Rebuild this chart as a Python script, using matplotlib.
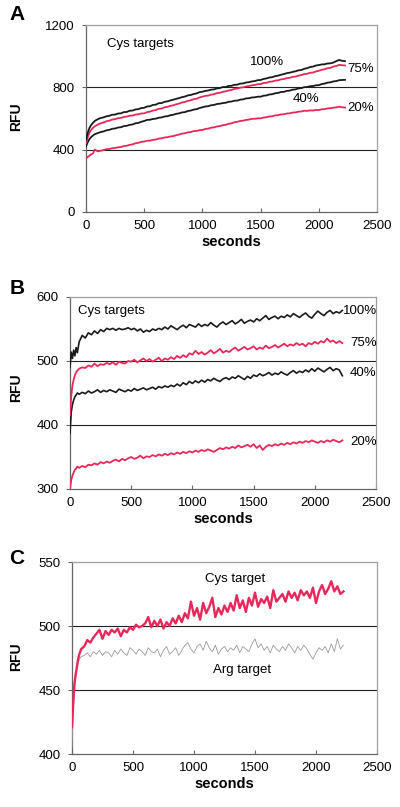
import matplotlib
matplotlib.use("Agg")
import matplotlib.pyplot as plt

plt.rcParams['font.family'] = ['Liberation Sans', 'DejaVu Sans']

# time grid (seconds)
t = [0, 10, 20, 30, 40, 50, 60, 75,
     100, 125, 150, 175, 200, 225, 250, 275,
     300, 325, 350, 375, 400, 425, 450, 475,
     500, 525, 550, 575, 600, 625, 650, 675,
     700, 725, 750, 775, 800, 825, 850, 875,
     900, 925, 950, 975, 1000, 1025, 1050, 1075,
     1100, 1125, 1150, 1175, 1200, 1225, 1250, 1275,
     1300, 1325, 1350, 1375, 1400, 1425, 1450, 1475,
     1500, 1525, 1550, 1575, 1600, 1625, 1650, 1675,
     1700, 1725, 1750, 1775, 1800, 1825, 1850, 1875,
     1900, 1925, 1950, 1975, 2000, 2025, 2050, 2075,
     2100, 2125, 2150, 2175, 2200, 2225]

# Panel A
a100 = [463, 495, 520, 540, 553, 563, 572, 584,
        595, 603, 607, 614, 617, 624, 625, 632,
        633, 641, 642, 650, 651, 658, 660, 667,
        669, 677, 679, 687, 689, 698, 699, 707,
        710, 716, 721, 726, 731, 737, 741, 748,
        751, 757, 761, 769, 772, 777, 780, 785,
        787, 793, 795, 802, 802, 809, 810, 816,
        817, 824, 825, 831, 833, 838, 840, 846,
        847, 854, 857, 863, 865, 872, 875, 881,
        885, 891, 894, 899, 903, 909, 911, 919,
        923, 930, 933, 940, 943, 947, 948, 953,
        954, 959, 968, 976, 970, 968]
a75 = [442, 468, 490, 510, 522, 532, 540, 550,
       560, 569, 574, 582, 586, 593, 596, 602,
       604, 610, 612, 618, 619, 625, 627, 632,
       633, 641, 644, 651, 654, 662, 664, 672,
       675, 681, 685, 691, 696, 703, 706, 713,
       717, 724, 727, 735, 740, 745, 747, 753,
       756, 763, 765, 771, 774, 780, 783, 790,
       792, 798, 800, 806, 808, 813, 815, 820,
       821, 828, 829, 836, 837, 843, 845, 851,
       853, 859, 861, 867, 869, 875, 879, 885,
       887, 893, 895, 902, 906, 913, 916, 923,
       925, 933, 937, 944, 942, 940]
a40 = [421, 440, 455, 468, 477, 485, 491, 499,
       506, 513, 517, 524, 527, 534, 536, 542,
       544, 551, 553, 559, 562, 569, 572, 579,
       584, 591, 592, 597, 599, 605, 607, 613,
       615, 621, 624, 630, 633, 639, 641, 648,
       651, 657, 660, 667, 672, 677, 679, 685,
       687, 693, 695, 699, 701, 707, 709, 714,
       715, 721, 723, 729, 730, 735, 736, 740,
       740, 746, 748, 754, 756, 762, 764, 770,
       771, 777, 779, 785, 787, 793, 795, 801,
       802, 807, 808, 813, 814, 821, 824, 830,
       832, 838, 840, 846, 847, 848]
a20 = [346, 350, 356, 362, 368, 372, 376, 400,
       389, 393, 397, 403, 404, 409, 411, 415,
       417, 423, 425, 431, 434, 441, 444, 450,
       452, 457, 458, 463, 465, 471, 473, 478,
       480, 485, 487, 493, 497, 503, 505, 511,
       513, 519, 520, 525, 526, 533, 535, 541,
       543, 549, 551, 557, 559, 566, 569, 576,
       579, 584, 586, 591, 593, 598, 598, 601,
       601, 606, 608, 613, 614, 620, 621, 626,
       627, 632, 633, 638, 639, 644, 645, 650,
       649, 652, 651, 655, 654, 659, 660, 665,
       666, 669, 671, 676, 672, 670]

# Panel B
b100 = [490, 514, 504, 517, 508, 521, 513, 530,
        540, 536, 544, 541, 547, 543, 549, 546,
        551, 549, 551, 548, 551, 549, 550, 552,
        549, 551, 547, 550, 545, 548, 546, 550,
        548, 551, 549, 553, 550, 555, 552, 549,
        553, 556, 552, 557, 555, 553, 558, 554,
        557, 555, 560, 556, 553, 558, 561, 557,
        560, 563, 558, 561, 565, 559, 562, 564,
        561, 566, 563, 567, 571, 565, 568, 570,
        566, 570, 568, 572, 569, 574, 571, 568,
        572, 575, 570, 567, 573, 578, 574, 571,
        576, 579, 574, 577, 575, 579]
b75 = [415, 445, 462, 471, 478, 482, 485, 488,
       490, 489, 493, 491, 496, 492, 495, 494,
       497, 495, 498, 494, 499, 497, 496, 500,
       499, 502, 498, 501, 504, 500, 503, 499,
       502, 505, 500, 504, 502, 506, 503, 508,
       505, 509, 506, 512, 510, 516, 511, 514,
       510, 513, 517, 512, 515, 519, 513, 516,
       514, 518, 521, 516, 519, 522, 518, 520,
       523, 518, 521, 519, 524, 520, 522, 525,
       521, 524, 527, 523, 526, 524, 528, 525,
       527, 523, 528, 526, 530, 527, 531, 529,
       535, 530, 532, 528, 531, 528]
b40 = [387, 420, 432, 439, 444, 447, 450, 448,
       451, 449, 453, 450, 452, 455, 451, 454,
       452, 455, 453, 451, 456, 454, 452, 455,
       453, 457, 454, 456, 458, 455, 457, 459,
       456, 460, 458, 461, 459, 462, 460, 464,
       461, 466, 463, 468, 465, 469, 466, 470,
       467, 471, 469, 473, 470, 468, 472, 474,
       471, 475, 473, 477, 474, 471, 476, 473,
       478, 476, 480, 477, 479, 482, 478, 481,
       479, 483, 480, 478, 482, 485, 481, 484,
       482, 486, 483, 488, 484, 489, 486, 483,
       487, 490, 485, 488, 486, 477]
b20 = [300, 314, 321, 326, 330, 332, 335, 333,
       336, 334, 338, 337, 340, 338, 342, 340,
       343, 341, 344, 346, 343, 347, 345, 348,
       350, 347, 349, 352, 348, 351, 350, 353,
       351, 354, 352, 355, 353, 356, 354, 357,
       355, 358, 356, 359, 357, 360, 358, 361,
       359, 362, 360, 358, 361, 364, 362, 365,
       363, 366, 364, 368, 365, 367, 369, 366,
       370, 364, 368, 361, 366, 369, 367, 370,
       368, 371, 369, 372, 370, 373, 371, 374,
       372, 375, 373, 376, 374, 372, 375, 373,
       376, 374, 377, 375, 373, 376]

# Panel C
c_cys = [421, 440, 455, 462, 468, 474, 478, 482,
         484, 489, 487, 491, 494, 497, 490, 496,
         493, 497, 495, 498, 492, 497, 495, 499,
         497, 501, 499, 500, 502, 507, 499, 504,
         500, 505, 498, 503, 500, 506, 502, 508,
         503, 510, 506, 519, 508, 514, 505, 518,
         510, 515, 522, 507, 514, 509, 516, 511,
         518, 512, 524, 514, 520, 511, 522, 516,
         526, 515, 521, 518, 523, 514, 528, 519,
         522, 525, 519, 527, 522, 526, 520, 528,
         524, 527, 522, 530, 518, 527, 532, 525,
         529, 535, 527, 531, 525, 527]
c_arg = [405, 432, 448, 460, 467, 471, 474, 476,
         477, 479, 476, 480, 478, 481, 477, 480,
         479, 476, 481, 478, 482, 479, 477, 483,
         481, 478, 482, 480, 477, 483, 480, 479,
         482, 476, 481, 484, 478, 480, 483, 477,
         481, 485, 487, 482, 479, 484, 486, 481,
         488, 483, 480, 485, 478, 482, 484, 480,
         483, 481, 485, 479, 484, 482, 480, 486,
         490, 483, 486, 481, 484, 479, 485, 482,
         480, 484, 481, 486, 483, 479, 484, 481,
         485, 482, 478, 474, 479, 483, 481, 484,
         479, 486, 480, 490, 482, 485]

xticks = [0, 500, 1000, 1500, 2000, 2500]
yticks_a = [0, 400, 800, 1200]
yticks_b = [300, 400, 500, 600]
yticks_c = [400, 450, 500, 550]

RED = '#e8285a'
BLK = '#1a1a1a'
GRAY = '#9a9a9a'

W, H = 400, 807
fig = plt.figure(figsize=(W / 100, H / 100), dpi=100)


def mk_axes(l, r, top, bot):
    return fig.add_axes([l / W, 1 - bot / H, (r - l) / W, (bot - top) / H])


def style(ax, yticks):
    ax.set_xlim(0, 2500)
    ax.set_ylim(yticks[0], yticks[-1])
    ax.set_xticks(xticks)
    ax.set_yticks(yticks)
    for y in yticks[1:-1]:
        ax.axhline(y, color='#222222', lw=0.8, zorder=1)
    for s in ['top', 'right']:
        ax.spines[s].set_color('#a0a0a0')
        ax.spines[s].set_linewidth(0.9)
    for s in ['left', 'bottom']:
        ax.spines[s].set_color('#666666')
        ax.spines[s].set_linewidth(0.9)
    ax.tick_params(axis='x', direction='in', length=3, width=0.8,
                   color='#666666', labelsize=9.5, pad=6)
    ax.tick_params(axis='y', direction='out', length=3, width=0.8,
                   color='#666666', labelsize=9.5, pad=5)
    ax.set_xlabel('seconds', fontsize=10.5, fontweight='bold', labelpad=2)


# Panel A
axA = mk_axes(86, 377, 25, 212)
style(axA, yticks_a)
axA.plot(t, a20, color=RED, lw=1.3, zorder=3)
axA.plot(t, a40, color=BLK, lw=1.3, zorder=3)
axA.plot(t, a75, color=RED, lw=1.3, zorder=3)
axA.plot(t, a100, color=BLK, lw=1.3, zorder=3)
axA.text(180, 1078, 'Cys targets', fontsize=9.5, va='center', ha='left')
axA.text(1409, 963, '100%', fontsize=9.5, va='center', ha='left')
axA.text(2245, 918, '75%', fontsize=9.5, va='center', ha='left')
axA.text(1778, 725, '40%', fontsize=9.5, va='center', ha='left')
axA.text(2242, 667, '20%', fontsize=9.5, va='center', ha='left')

# Panel B
axB = mk_axes(70, 376, 297, 489)
style(axB, yticks_b)
axB.plot(t, b20, color=RED, lw=1.3, zorder=3)
axB.plot(t, b40, color=BLK, lw=1.2, zorder=3)
axB.plot(t, b75, color=RED, lw=1.3, zorder=3)
axB.plot(t, b100, color=BLK, lw=1.2, zorder=3)
axB.text(65, 578, 'Cys targets', fontsize=9.5, va='center', ha='left')
axB.text(2230, 578, '100%', fontsize=9.5, va='center', ha='left')
axB.text(2287, 528, '75%', fontsize=9.5, va='center', ha='left')
axB.text(2287, 481, '40%', fontsize=9.5, va='center', ha='left')
axB.text(2287, 373, '20%', fontsize=9.5, va='center', ha='left')

# Panel C
axC = mk_axes(72, 377, 562, 754)
style(axC, yticks_c)
axC.plot(t, c_arg, color=GRAY, lw=0.6, zorder=3)
axC.plot(t, c_cys, color=RED, lw=1.7, zorder=3)
axC.text(1090, 536.7, 'Cys target', fontsize=9.5, va='center', ha='left')
axC.text(1156, 466, 'Arg target', fontsize=9.5, va='center', ha='left')

# Panel letters and y labels
for letter, yc in [('A', 15), ('B', 288), ('C', 559)]:
    fig.text(17 / W, 1 - yc / H, letter, fontsize=15, fontweight='bold',
             ha='center', va='center')
for yc in [117, 388, 657]:
    fig.text(16 / W, 1 - yc / H, 'RFU', fontsize=10, fontweight='bold',
             rotation=90, ha='center', va='center')

fig.savefig('out.png', dpi=100)
